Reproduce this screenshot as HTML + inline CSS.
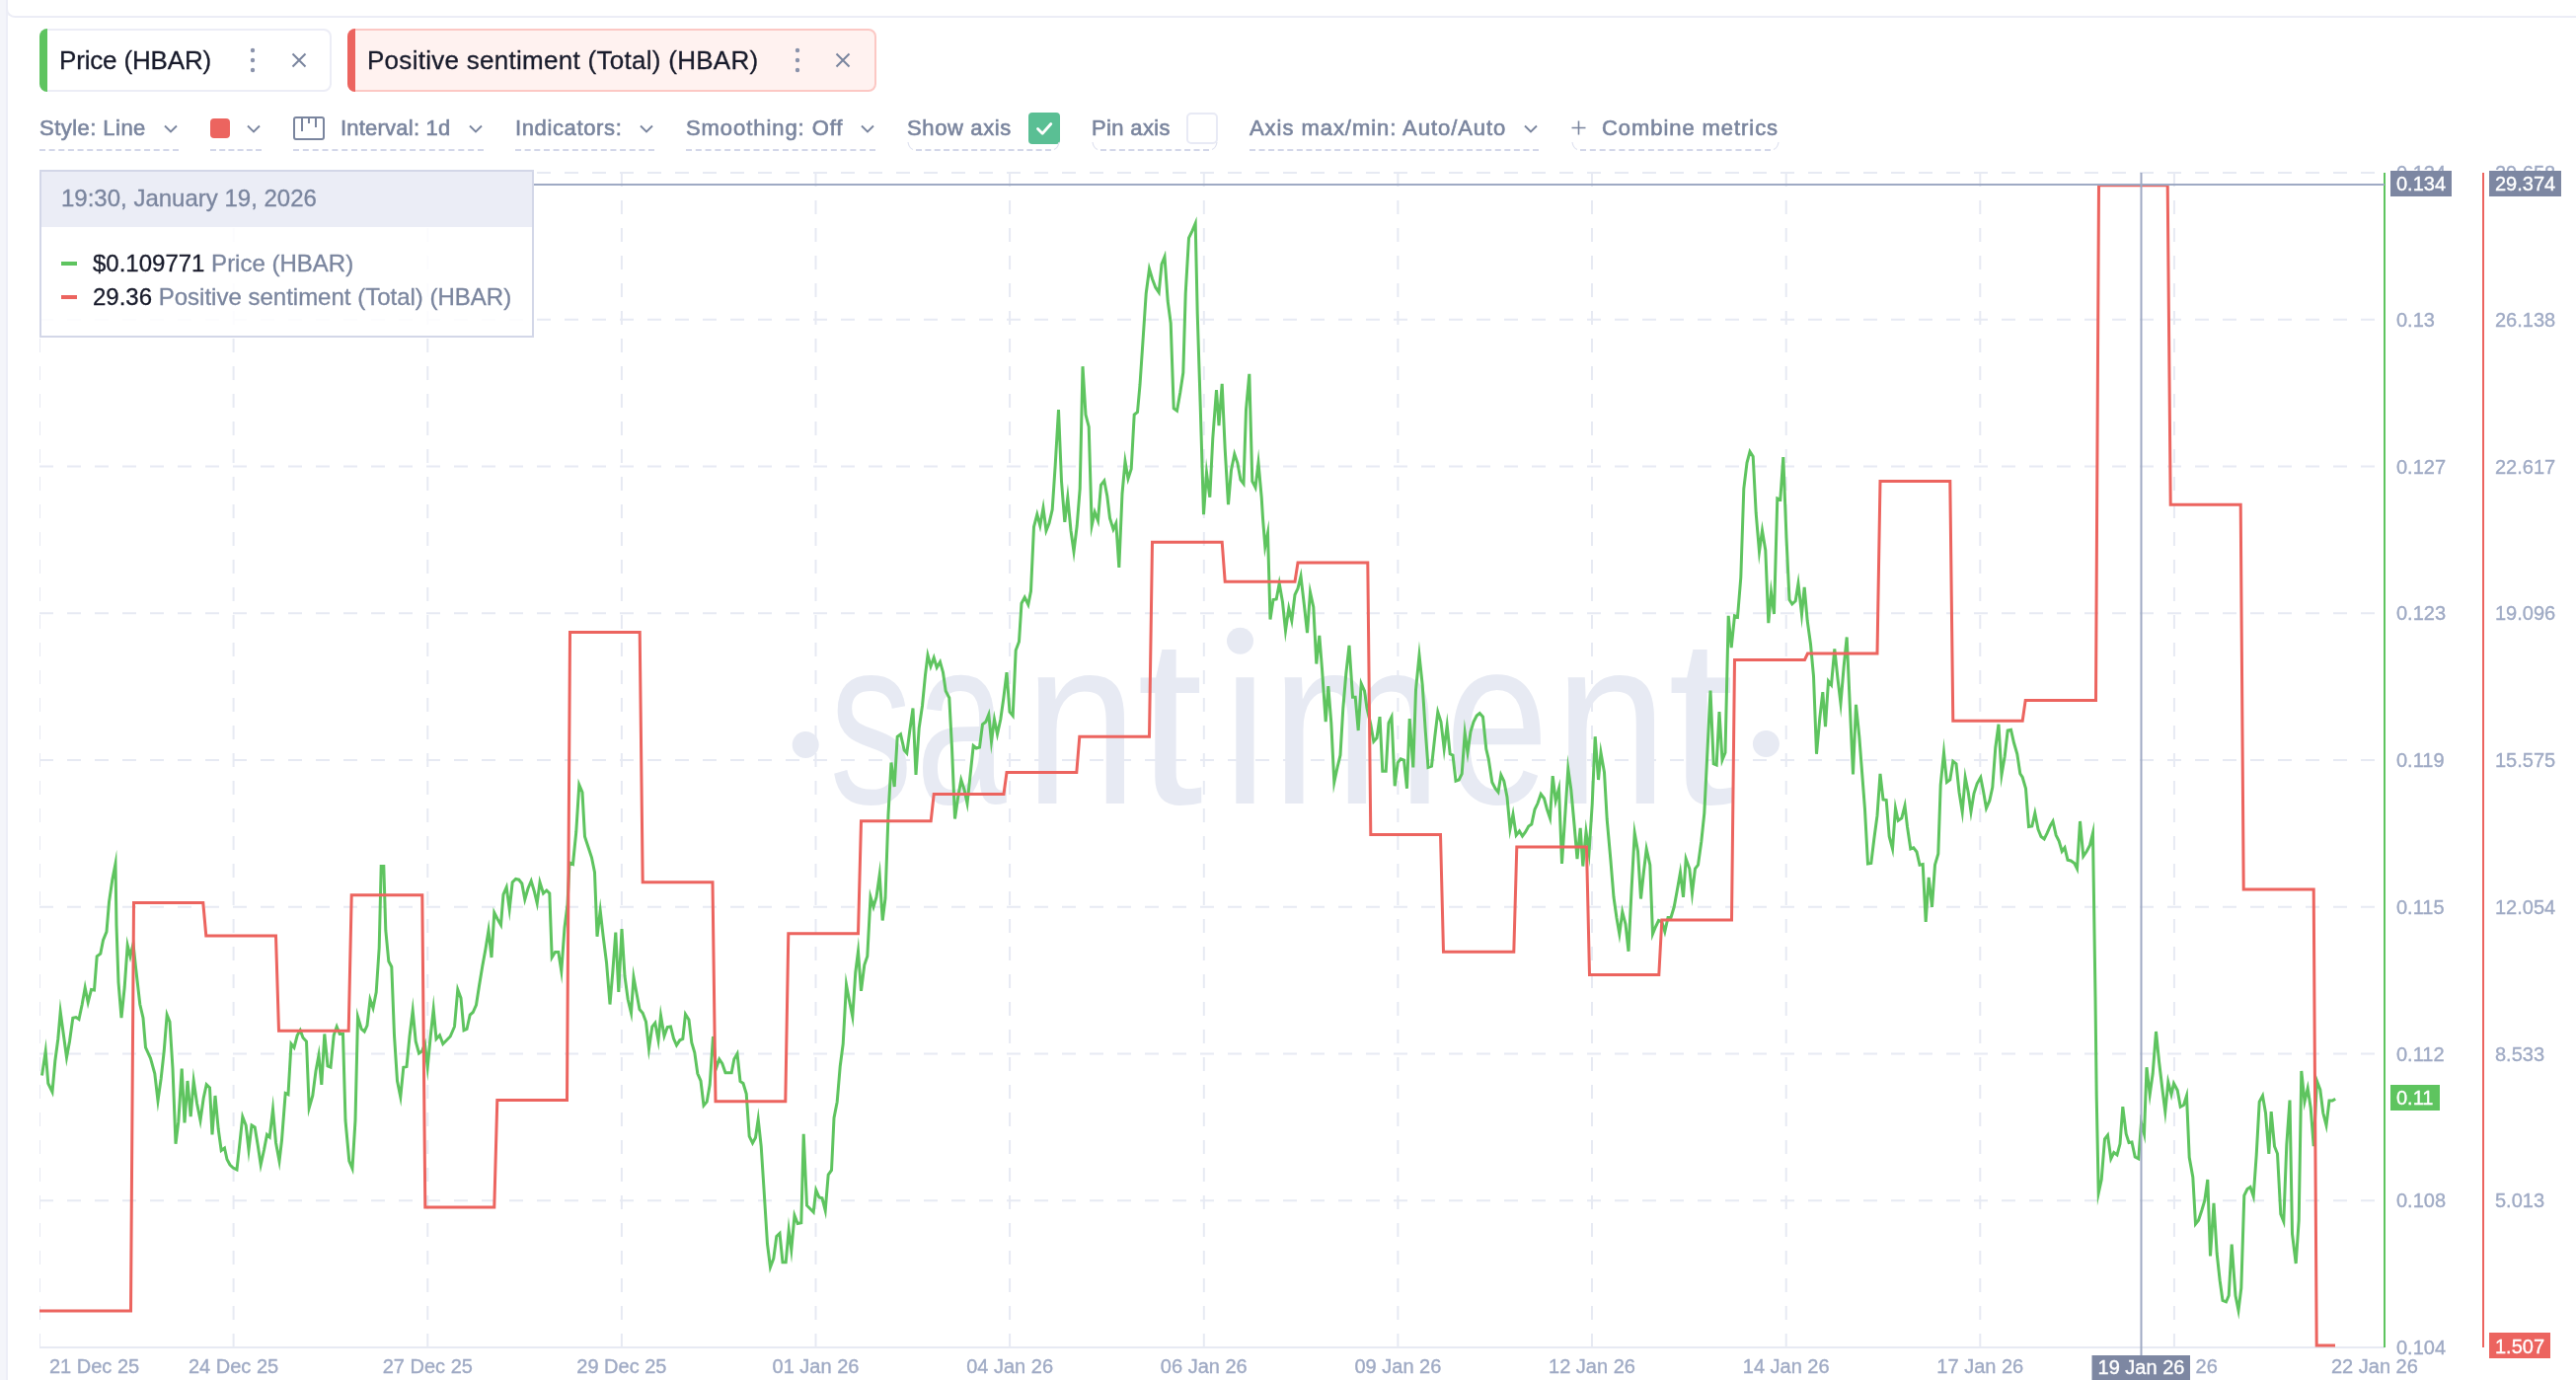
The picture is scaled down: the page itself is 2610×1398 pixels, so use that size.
<!DOCTYPE html><html><head><meta charset="utf-8"><title>Santiment chart</title><style>
*{box-sizing:border-box;margin:0;padding:0}
html,body{width:2610px;height:1398px;background:#fff}
body{position:relative;font-family:"Liberation Sans",sans-serif;color:#7a859e}
.abs{position:absolute}
#strip{left:0;top:0;width:8px;height:1398px;background:#f4f5fa;border-right:2px solid #edeef7}
#topcard{left:6px;top:-20px;width:2604px;height:38px;border:2px solid #ecedf6;border-right:none;border-radius:0 0 0 9px;background:#fff}
#chart{position:absolute;left:0;top:0;will-change:transform}
.chip,.tb,#tip{will-change:transform}
.chip{position:absolute;top:29px;height:64px;border:2px solid #ecedf6;border-radius:8px;background:#fff}
.chip .bar{position:absolute;left:-2px;top:-2px;width:8px;height:64px;border-radius:8px 0 0 8px}
.chip .t{position:absolute;top:14px;font-size:26px;line-height:32px;color:#181b2b;white-space:nowrap;-webkit-text-stroke:0.3px #181b2b}
.chip svg{position:absolute}
.tb{position:absolute;top:114px;height:32px;font-size:22px;line-height:32px;white-space:nowrap;color:#7a859e;-webkit-text-stroke:0.6px #7a859e}
.ul{position:absolute;top:151px;height:2px}
#tip{position:absolute;left:40px;top:172px;width:501px;height:170px;border:2px solid #d3d7e8;background:rgba(255,255,255,0.86)}
#tip .h{position:absolute;left:0;top:0;width:497px;height:56px;background:#ebedf6;font-size:24px;line-height:53px;padding-left:20px;color:#7a859e;-webkit-text-stroke:0.3px #7a859e}
#tip .r{position:absolute;left:52px;font-size:24px;line-height:30px;white-space:nowrap;color:#7a859e;-webkit-text-stroke:0.3px #7a859e}
#tip .r b{font-weight:normal;color:#181b2b;-webkit-text-stroke:0.3px #181b2b}
#tip .d{position:absolute;left:20px;width:16px;height:4px}
</style></head><body>
<div id="strip" class="abs"></div><div id="topcard" class="abs"></div>
<div class="chip" style="left:40px;width:296px"><div class="bar" style="background:#5ec45f"></div><span class="t" id="c1" style="left:18px;letter-spacing:-0.17px">Price (HBAR)</span><svg width="6" height="28" viewBox="0 0 6 28" style="left:211px;top:16px"><g fill="#8b93ab"><circle cx="3" cy="4" r="2.2"/><circle cx="3" cy="14" r="2.2"/><circle cx="3" cy="24" r="2.2"/></g></svg><svg width="16" height="16" viewBox="0 0 16 16" style="left:253px;top:22px"><path d="M1.5,1.5L14.5,14.5M14.5,1.5L1.5,14.5" stroke="#7a859e" stroke-width="2" fill="none"/></svg></div>
<div class="chip" style="left:352px;width:536px;background:#fff2f0;border-color:#fcc8c4"><div class="bar" style="background:#ec645f"></div><span class="t" id="c2" style="left:18px;letter-spacing:0.28px">Positive sentiment (Total) (HBAR)</span><svg width="6" height="28" viewBox="0 0 6 28" style="left:451px;top:16px"><g fill="#8b93ab"><circle cx="3" cy="4" r="2.2"/><circle cx="3" cy="14" r="2.2"/><circle cx="3" cy="24" r="2.2"/></g></svg><svg width="16" height="16" viewBox="0 0 16 16" style="left:492px;top:22px"><path d="M1.5,1.5L14.5,14.5M14.5,1.5L1.5,14.5" stroke="#7a859e" stroke-width="2" fill="none"/></svg></div>
<span class="tb" id="t1" style="left:40px;letter-spacing:0.46px">Style: Line</span><svg class="abs" style="left:165px;top:126px" width="16" height="10" viewBox="0 0 16 10"><path d="M2,1.5L8,7.5L14,1.5" fill="none" stroke="#7a859e" stroke-width="1.9" stroke-linecap="butt" stroke-linejoin="miter"/></svg><svg class="ul" style="left:40px" width="141" height="2"><path d="M0,1H141" stroke="#d3d7e9" stroke-width="2" stroke-dasharray="6 3.643"/></svg>
<div class="abs" style="left:213px;top:120px;width:20px;height:20px;border-radius:4px;background:#ec645f"></div><svg class="abs" style="left:249px;top:126px" width="16" height="10" viewBox="0 0 16 10"><path d="M2,1.5L8,7.5L14,1.5" fill="none" stroke="#7a859e" stroke-width="1.9" stroke-linecap="butt" stroke-linejoin="miter"/></svg><svg class="ul" style="left:213px" width="52" height="2"><path d="M0,1H52" stroke="#d3d7e9" stroke-width="2" stroke-dasharray="6 3.200"/></svg>
<svg class="abs" style="left:296px;top:117px" width="34" height="26" viewBox="0 0 34 26"><rect x="2" y="2" width="30" height="22" rx="2" fill="none" stroke="#7a859e" stroke-width="2"/><path d="M10,2V16M17,2V8M24,2V12" stroke="#7a859e" stroke-width="2" fill="none"/></svg>
<span class="tb" id="t2" style="left:345px;letter-spacing:0.22px">Interval: 1d</span><svg class="abs" style="left:474px;top:126px" width="16" height="10" viewBox="0 0 16 10"><path d="M2,1.5L8,7.5L14,1.5" fill="none" stroke="#7a859e" stroke-width="1.9" stroke-linecap="butt" stroke-linejoin="miter"/></svg><svg class="ul" style="left:297px" width="193" height="2"><path d="M0,1H193" stroke="#d3d7e9" stroke-width="2" stroke-dasharray="6 3.842"/></svg>
<span class="tb" id="t3" style="left:522px;letter-spacing:0.63px">Indicators:</span><svg class="abs" style="left:647px;top:126px" width="16" height="10" viewBox="0 0 16 10"><path d="M2,1.5L8,7.5L14,1.5" fill="none" stroke="#7a859e" stroke-width="1.9" stroke-linecap="butt" stroke-linejoin="miter"/></svg><svg class="ul" style="left:522px" width="141" height="2"><path d="M0,1H141" stroke="#d3d7e9" stroke-width="2" stroke-dasharray="6 3.643"/></svg>
<span class="tb" id="t4" style="left:695px;letter-spacing:0.93px">Smoothing: Off</span><svg class="abs" style="left:871px;top:126px" width="16" height="10" viewBox="0 0 16 10"><path d="M2,1.5L8,7.5L14,1.5" fill="none" stroke="#7a859e" stroke-width="1.9" stroke-linecap="butt" stroke-linejoin="miter"/></svg><svg class="ul" style="left:695px" width="192" height="2"><path d="M0,1H192" stroke="#d3d7e9" stroke-width="2" stroke-dasharray="6 3.789"/></svg>
<span class="tb" id="t5" style="left:919px;letter-spacing:0.63px">Show axis</span><div class="abs" style="left:1042px;top:114px;width:32px;height:32px;border-radius:4px;background:#5abf94"><svg width="32" height="32" viewBox="0 0 32 32"><path d="M9.5,16.5L14.2,21.2L22.8,11.5" fill="none" stroke="#fff" stroke-width="2.8" stroke-linecap="round" stroke-linejoin="round"/></svg></div><svg class="abs" style="left:919px;top:141px" width="155" height="12"><path d="M9,11H146" fill="none" stroke="#d3d7e9" stroke-width="2" stroke-dasharray="6 3.357"/><path d="M1,3Q2,9,6,10.5M154,3Q153,9,149,10.5" fill="none" stroke="#dfe2f0" stroke-width="1.2"/></svg>
<span class="tb" id="t6" style="left:1106px;letter-spacing:0.35px">Pin axis</span><div class="abs" style="left:1202px;top:114px;width:32px;height:32px;border-radius:5px;border:2px solid #e8eaf5;background:#fff"></div><svg class="abs" style="left:1106px;top:141px" width="128" height="12"><path d="M9,11H119" fill="none" stroke="#d3d7e9" stroke-width="2" stroke-dasharray="6 3.455"/><path d="M1,3Q2,9,6,10.5M127,3Q126,9,122,10.5" fill="none" stroke="#dfe2f0" stroke-width="1.2"/></svg>
<span class="tb" id="t7" style="left:1266px;letter-spacing:0.95px">Axis max/min: Auto/Auto</span><svg class="abs" style="left:1543px;top:126px" width="16" height="10" viewBox="0 0 16 10"><path d="M2,1.5L8,7.5L14,1.5" fill="none" stroke="#7a859e" stroke-width="1.9" stroke-linecap="butt" stroke-linejoin="miter"/></svg><svg class="ul" style="left:1266px" width="293" height="2"><path d="M0,1H293" stroke="#d3d7e9" stroke-width="2" stroke-dasharray="6 3.567"/></svg>
<svg class="abs" style="left:1592px;top:122px" width="15" height="15" viewBox="0 0 15 15"><path d="M7.5,0.5V14.5M0.5,7.5H14.5" stroke="#7a859e" stroke-width="1.6" fill="none"/></svg><span class="tb" id="t8" style="left:1623px;letter-spacing:0.93px">Combine metrics</span><svg class="abs" style="left:1592px;top:141px" width="211" height="12"><path d="M9,11H202" fill="none" stroke="#d3d7e9" stroke-width="2" stroke-dasharray="6 3.842"/><path d="M1,3Q2,9,6,10.5M210,3Q209,9,205,10.5" fill="none" stroke="#dfe2f0" stroke-width="1.2"/></svg>
<svg id="chart" width="2610" height="1398" viewBox="0 0 2610 1398"><g fill="#e7eaf3" font-family="Liberation Sans, sans-serif" font-size="241"><circle cx="816.2" cy="754.5" r="13.5"/><circle cx="1789.4" cy="753.5" r="13.5"/><circle cx="1256.5" cy="649.3" r="13.5"/><text transform="translate(840.4,814.4) scale(0.7,1)">s</text><text transform="translate(928.1,814.4) scale(0.685,1)">a</text><text transform="translate(1037.9,814.4) scale(0.853,1)">n</text><text transform="translate(1151.9,814.4) scale(1.0,1)">t</text><text transform="translate(1232.9,814.4) scale(0.85,1)">ı</text><text transform="translate(1287.7,814.4) scale(0.864,1)">m</text><text transform="translate(1464.3,814.4) scale(0.783,1)">e</text><text transform="translate(1575.1,814.4) scale(0.853,1)">n</text><text transform="translate(1690.1,814.4) scale(1.0,1)">t</text></g><g stroke="#e7eaf3" stroke-width="2" stroke-dasharray="14 14" fill="none"><path d="M40,175.0H2416"/><path d="M40,323.8H2416"/><path d="M40,472.5H2416"/><path d="M40,621.2H2416"/><path d="M40,770.0H2416"/><path d="M40,918.8H2416"/><path d="M40,1067.5H2416"/><path d="M40,1216.2H2416"/><path d="M236.6,175V1364"/><path d="M433.3,175V1364"/><path d="M629.9,175V1364"/><path d="M826.5,175V1364"/><path d="M1023.1,175V1364"/><path d="M1219.8,175V1364"/><path d="M1416.4,175V1364"/><path d="M1613.0,175V1364"/><path d="M1809.7,175V1364"/><path d="M2006.3,175V1364"/><path d="M2202.9,175V1364"/><path d="M40.5,175V1364" stroke-width="1"/></g><path d="M40,1365H2416" stroke="#e7eaf3" stroke-width="2"/><path d="M42.5,1089.5 L46.2,1065.0 L48.8,1097.5 L53.0,1106.2 L55.8,1075.0 L58.8,1052.5 L61.2,1025.0 L67.5,1071.2 L70.5,1055.0 L73.8,1031.2 L77.0,1030.5 L80.0,1032.5 L83.2,1017.5 L86.2,1000.5 L89.2,1015.5 L92.5,1002.5 L95.5,1003.0 L98.2,968.8 L101.8,966.2 L104.5,952.5 L108.0,943.8 L110.5,913.8 L113.8,891.2 L117.0,875.0 L118.0,937.5 L120.0,995.0 L123.0,1031.2 L126.2,1000.0 L129.2,957.5 L132.0,968.8 L135.0,956.2 L137.5,980.0 L141.8,1017.5 L145.0,1031.2 L147.5,1061.2 L152.5,1072.0 L156.8,1087.5 L160.0,1115.0 L163.2,1092.5 L166.2,1065.0 L169.2,1028.0 L172.0,1035.0 L175.0,1082.5 L178.0,1158.8 L180.8,1136.2 L184.2,1082.5 L187.0,1137.5 L190.0,1095.0 L193.2,1131.2 L196.2,1095.0 L199.5,1117.5 L203.0,1135.0 L206.2,1112.5 L209.2,1098.8 L212.5,1102.0 L215.0,1149.5 L218.0,1110.0 L221.2,1143.8 L224.2,1165.5 L227.5,1163.0 L230.0,1174.5 L233.0,1180.0 L236.2,1183.0 L240.0,1185.0 L243.0,1157.5 L245.8,1131.2 L249.2,1140.0 L252.0,1165.0 L255.0,1140.0 L258.2,1142.0 L261.2,1160.0 L264.2,1180.0 L267.5,1165.0 L270.5,1149.5 L273.2,1152.0 L276.5,1123.8 L279.5,1157.5 L283.0,1176.2 L285.5,1155.0 L289.2,1107.5 L292.0,1108.8 L295.0,1057.5 L298.0,1061.2 L301.2,1048.8 L304.2,1043.8 L307.0,1051.2 L310.5,1055.0 L313.2,1122.5 L316.8,1110.0 L320.0,1085.0 L323.0,1068.8 L325.8,1098.8 L328.8,1047.5 L332.0,1080.0 L335.0,1081.2 L338.2,1048.8 L341.2,1040.0 L344.2,1047.5 L347.5,1047.5 L350.0,1135.0 L353.8,1176.2 L357.0,1183.8 L360.0,1135.0 L362.5,1030.0 L366.2,1042.5 L369.2,1045.0 L372.0,1038.8 L375.0,1012.5 L378.0,1021.2 L381.2,1005.0 L384.2,960.0 L386.2,877.5 L388.8,877.5 L390.8,942.5 L393.8,973.8 L396.8,979.5 L399.5,1048.8 L402.5,1095.0 L405.8,1111.2 L408.8,1081.2 L412.0,1080.5 L415.0,1050.0 L418.2,1023.8 L421.2,1055.0 L424.5,1067.0 L427.5,1065.0 L430.5,1057.5 L433.2,1081.2 L436.2,1050.0 L439.2,1022.5 L442.0,1052.5 L445.5,1048.8 L448.8,1057.5 L452.5,1053.8 L456.2,1050.0 L460.5,1040.0 L463.8,1002.5 L467.0,1011.2 L470.0,1043.8 L473.0,1042.5 L476.2,1028.0 L479.2,1025.5 L482.5,1018.0 L485.5,998.8 L488.8,978.8 L492.0,961.2 L495.0,942.5 L498.0,970.0 L500.8,924.5 L504.2,931.2 L507.5,937.0 L510.0,906.2 L513.2,898.8 L516.2,921.2 L519.2,893.8 L522.5,890.5 L525.8,891.2 L528.8,895.0 L531.8,911.2 L535.0,900.0 L538.2,892.5 L541.2,902.5 L544.2,915.0 L547.0,893.8 L550.5,905.0 L553.8,902.0 L556.8,905.0 L559.2,970.0 L562.5,964.5 L565.8,964.5 L568.8,983.8 L572.0,940.0 L575.0,916.2 L577.0,873.8 L580.5,875.5 L583.8,842.5 L586.8,795.0 L590.0,802.5 L592.5,847.5 L596.2,858.8 L599.5,868.8 L602.5,883.8 L605.0,948.8 L608.2,922.5 L611.2,948.8 L614.5,975.0 L618.0,1017.5 L620.8,985.0 L623.8,944.5 L626.8,1005.0 L630.0,941.2 L633.0,988.8 L636.2,1012.5 L639.5,1026.2 L642.0,990.0 L645.0,1006.2 L648.0,1022.5 L651.2,1026.2 L654.5,1035.0 L657.5,1062.5 L660.8,1040.0 L663.8,1036.2 L667.0,1053.8 L669.5,1028.8 L673.0,1049.5 L676.2,1040.5 L679.5,1040.0 L682.5,1052.0 L685.5,1058.8 L688.8,1053.8 L691.8,1052.5 L694.5,1027.5 L698.0,1033.0 L700.8,1056.2 L703.8,1066.2 L706.8,1087.5 L710.0,1095.0 L713.0,1120.0 L716.2,1116.2 L719.2,1098.8 L722.5,1050.0 L725.5,1082.5 L728.8,1073.0 L731.8,1077.5 L735.0,1086.8 L741.2,1086.8 L743.8,1073.0 L747.0,1067.5 L750.0,1095.5 L753.0,1097.5 L756.2,1108.0 L759.2,1151.2 L762.5,1158.0 L765.5,1152.5 L768.2,1133.8 L771.2,1161.2 L774.2,1207.5 L777.5,1260.0 L780.5,1283.8 L783.8,1275.0 L786.8,1252.5 L790.0,1249.5 L793.0,1278.8 L796.2,1278.8 L799.2,1246.2 L801.8,1266.2 L805.0,1231.2 L808.2,1239.5 L811.8,1238.8 L814.2,1148.8 L817.5,1221.2 L820.8,1224.5 L824.2,1228.0 L826.8,1205.5 L830.0,1213.0 L833.0,1213.8 L836.2,1226.2 L839.2,1190.0 L842.5,1185.5 L845.0,1132.5 L848.2,1116.2 L851.2,1080.5 L854.2,1057.5 L857.5,997.5 L860.8,1015.0 L863.8,1030.0 L866.8,985.0 L869.5,963.8 L872.5,1003.8 L875.8,977.5 L878.8,968.8 L882.0,908.8 L885.0,918.8 L888.0,908.8 L891.2,886.2 L894.2,932.5 L897.0,910.0 L900.0,825.0 L903.0,772.5 L906.2,797.0 L909.2,746.2 L912.5,743.8 L916.2,760.0 L918.8,763.0 L921.8,740.0 L925.0,717.5 L928.0,785.0 L931.2,737.5 L934.5,715.0 L937.5,683.8 L940.0,663.8 L943.0,675.0 L946.2,666.2 L949.2,676.2 L952.5,670.5 L955.5,681.2 L958.2,700.0 L961.8,707.0 L964.5,757.5 L967.5,829.5 L970.5,808.8 L973.8,790.0 L977.0,800.0 L980.0,813.8 L983.2,783.8 L986.2,755.5 L989.2,758.0 L992.5,757.0 L995.5,733.8 L998.8,731.2 L1001.8,723.8 L1004.5,751.2 L1007.5,728.8 L1010.5,743.8 L1013.8,728.8 L1016.8,707.5 L1020.0,681.2 L1023.0,721.2 L1026.2,725.0 L1029.2,658.8 L1032.5,650.0 L1035.0,611.2 L1038.2,605.0 L1041.8,612.5 L1044.5,598.8 L1047.5,533.8 L1050.8,521.2 L1053.8,532.5 L1057.0,514.5 L1060.0,537.5 L1063.0,530.0 L1066.2,516.2 L1069.2,471.2 L1072.5,415.0 L1075.5,487.5 L1078.8,528.8 L1081.8,503.8 L1085.0,537.5 L1088.0,558.8 L1091.2,532.5 L1094.2,495.0 L1097.0,371.2 L1100.0,420.0 L1103.2,432.5 L1106.2,532.5 L1109.2,518.8 L1112.5,527.5 L1115.5,491.2 L1118.8,487.0 L1121.8,502.5 L1124.5,525.0 L1128.0,536.2 L1130.8,530.0 L1133.8,575.0 L1137.0,500.0 L1140.0,467.5 L1143.0,485.0 L1146.2,475.0 L1149.2,420.0 L1152.5,417.5 L1155.0,390.0 L1158.2,342.5 L1161.2,297.5 L1164.5,272.5 L1167.5,282.5 L1170.8,291.2 L1174.2,296.2 L1177.0,267.5 L1180.0,260.0 L1183.2,305.0 L1186.2,327.5 L1189.2,413.8 L1192.5,416.2 L1195.8,397.5 L1198.8,377.5 L1201.2,297.5 L1204.5,241.2 L1208.0,233.8 L1211.2,226.2 L1213.2,317.5 L1216.2,411.2 L1219.5,521.2 L1222.5,478.8 L1225.8,503.8 L1228.8,443.8 L1232.5,395.0 L1235.0,431.2 L1238.2,388.8 L1241.2,455.0 L1244.5,511.2 L1247.5,476.2 L1250.8,460.0 L1253.8,468.8 L1257.0,486.2 L1260.0,490.0 L1262.5,415.0 L1265.8,378.8 L1268.8,487.5 L1272.0,493.8 L1275.0,468.8 L1278.2,503.8 L1279.5,525.0 L1281.8,553.8 L1284.5,540.0 L1287.0,627.5 L1290.0,607.5 L1293.2,607.0 L1296.2,591.2 L1299.5,610.0 L1302.5,638.8 L1305.8,616.2 L1308.8,628.8 L1312.0,602.5 L1315.0,596.2 L1318.0,583.8 L1321.2,611.2 L1324.5,641.2 L1327.5,600.0 L1330.8,615.0 L1333.8,672.5 L1336.8,643.8 L1339.5,677.5 L1343.2,731.2 L1345.8,695.0 L1348.8,732.5 L1351.8,792.5 L1355.0,777.5 L1358.0,765.0 L1360.8,717.5 L1363.8,682.5 L1367.0,653.8 L1370.5,706.2 L1373.2,706.2 L1376.2,740.0 L1379.2,692.5 L1382.5,700.0 L1385.0,717.5 L1388.8,733.8 L1391.8,751.2 L1395.0,747.5 L1398.0,726.2 L1400.8,781.2 L1404.2,781.2 L1407.0,732.5 L1410.0,726.2 L1413.2,796.2 L1416.2,772.5 L1419.2,768.8 L1422.5,770.0 L1425.5,798.8 L1428.2,728.0 L1431.8,777.5 L1434.5,698.8 L1438.0,663.8 L1441.2,693.8 L1444.2,740.0 L1447.0,777.5 L1450.5,776.2 L1453.8,746.2 L1456.8,721.2 L1460.0,731.2 L1463.2,758.8 L1466.2,735.0 L1469.2,763.8 L1472.0,765.0 L1475.0,791.2 L1478.2,790.0 L1481.2,783.8 L1484.2,742.5 L1487.0,762.5 L1490.0,741.2 L1493.0,731.2 L1496.2,725.0 L1499.2,722.5 L1502.5,726.2 L1505.8,758.8 L1508.2,768.8 L1511.8,792.5 L1515.0,798.8 L1518.0,802.5 L1520.8,785.0 L1523.8,791.2 L1527.0,807.5 L1530.0,840.0 L1533.0,825.0 L1536.2,846.2 L1539.5,842.0 L1542.5,847.0 L1545.5,843.0 L1548.8,837.0 L1551.8,835.0 L1555.0,820.0 L1558.0,813.8 L1561.2,804.5 L1564.5,808.8 L1567.5,820.0 L1570.5,828.8 L1573.2,786.2 L1576.2,811.2 L1579.5,798.8 L1582.5,875.0 L1585.5,830.0 L1588.8,778.8 L1591.8,800.0 L1595.0,835.0 L1598.0,870.0 L1601.2,838.8 L1603.8,877.5 L1607.0,842.5 L1610.0,863.8 L1613.2,815.0 L1616.2,746.2 L1619.5,790.0 L1622.0,762.5 L1625.5,782.5 L1628.2,830.0 L1631.8,870.0 L1635.0,908.8 L1638.0,930.0 L1640.8,946.2 L1643.8,923.8 L1647.0,936.2 L1650.0,963.8 L1653.0,902.5 L1656.2,843.8 L1659.5,862.5 L1662.5,910.5 L1665.5,882.5 L1668.2,860.0 L1671.8,876.2 L1674.5,946.2 L1677.5,938.8 L1680.5,932.5 L1683.8,933.8 L1686.8,943.8 L1690.0,929.5 L1693.0,929.5 L1696.2,918.8 L1699.2,902.5 L1702.5,883.8 L1705.5,908.8 L1708.2,870.0 L1711.8,880.0 L1714.5,905.0 L1717.5,880.0 L1720.5,876.2 L1723.8,852.5 L1726.8,823.8 L1729.5,770.0 L1733.0,699.5 L1736.2,773.8 L1739.2,775.0 L1742.0,721.2 L1745.0,770.0 L1748.0,762.5 L1751.2,623.8 L1754.2,656.2 L1757.5,623.8 L1760.5,625.0 L1763.8,585.0 L1766.8,495.0 L1770.0,468.8 L1773.0,457.5 L1776.2,462.5 L1779.2,520.0 L1782.5,558.8 L1785.5,537.5 L1788.8,557.5 L1791.8,631.2 L1794.5,600.0 L1797.5,622.0 L1800.8,505.0 L1803.8,506.2 L1806.8,463.0 L1810.0,545.0 L1813.0,607.5 L1815.8,612.0 L1819.2,608.8 L1822.0,591.2 L1825.5,622.5 L1828.2,595.0 L1831.2,628.8 L1834.5,652.5 L1837.5,685.0 L1840.5,763.8 L1843.8,727.5 L1846.8,701.2 L1849.5,736.2 L1852.5,690.0 L1855.5,693.8 L1858.8,657.5 L1862.0,687.5 L1865.0,712.5 L1868.2,675.0 L1871.2,645.5 L1874.2,712.5 L1877.5,784.5 L1880.5,713.8 L1883.8,746.2 L1886.8,785.0 L1889.5,820.0 L1892.5,875.0 L1895.8,874.5 L1898.8,850.0 L1902.0,826.2 L1905.0,783.8 L1908.0,810.0 L1911.2,810.5 L1914.2,847.5 L1917.5,860.0 L1920.5,818.8 L1923.2,831.2 L1926.8,828.8 L1930.0,816.2 L1932.5,837.5 L1935.8,860.0 L1938.8,858.8 L1942.0,863.0 L1945.0,876.2 L1948.2,875.5 L1951.2,933.8 L1954.2,888.8 L1957.5,918.8 L1960.5,876.2 L1963.8,865.0 L1966.2,795.0 L1969.5,762.5 L1972.5,792.5 L1975.8,790.0 L1978.8,771.2 L1982.0,773.8 L1985.0,802.5 L1988.2,822.5 L1991.2,787.5 L1994.2,802.5 L1997.0,822.5 L2000.0,803.8 L2003.2,793.8 L2006.8,787.5 L2009.5,801.2 L2012.5,818.8 L2015.8,811.2 L2018.8,797.5 L2021.8,757.5 L2025.0,733.8 L2028.0,785.0 L2031.2,766.2 L2034.2,740.0 L2037.5,739.2 L2040.5,752.5 L2043.8,763.8 L2046.8,783.8 L2049.2,787.5 L2052.5,798.8 L2055.5,837.5 L2058.8,837.0 L2061.8,823.8 L2065.0,840.0 L2068.0,847.5 L2071.2,850.0 L2074.2,843.8 L2077.5,836.2 L2080.0,832.0 L2083.2,846.2 L2086.2,852.0 L2089.2,862.5 L2092.0,858.8 L2095.0,871.2 L2098.2,872.0 L2101.8,874.5 L2104.5,880.0 L2107.5,832.0 L2110.8,867.5 L2114.2,862.5 L2117.5,856.2 L2120.5,843.8 L2123.0,1010.0 L2124.2,1110.0 L2126.2,1208.8 L2129.2,1195.0 L2132.5,1153.8 L2135.5,1150.0 L2138.8,1173.8 L2141.8,1167.5 L2145.0,1170.0 L2148.0,1158.8 L2150.8,1121.2 L2154.2,1148.8 L2157.0,1157.5 L2160.0,1157.0 L2163.2,1172.0 L2166.8,1173.8 L2169.5,1137.5 L2172.5,1148.8 L2175.0,1081.2 L2178.2,1108.8 L2181.2,1087.5 L2184.5,1045.0 L2187.5,1075.0 L2190.8,1102.5 L2193.8,1126.2 L2196.8,1096.2 L2200.0,1108.8 L2202.5,1097.5 L2206.2,1104.5 L2209.2,1121.2 L2212.5,1119.5 L2215.5,1110.0 L2218.2,1172.5 L2221.8,1192.5 L2224.5,1240.0 L2227.5,1236.2 L2230.8,1226.2 L2233.8,1216.2 L2236.8,1195.0 L2239.5,1272.5 L2243.0,1218.8 L2246.2,1270.0 L2249.2,1297.5 L2252.0,1317.5 L2255.5,1318.8 L2258.2,1312.5 L2261.2,1260.5 L2265.0,1312.5 L2268.0,1327.5 L2270.8,1305.0 L2273.8,1211.2 L2277.0,1204.5 L2280.0,1202.5 L2283.2,1212.0 L2286.2,1170.0 L2289.2,1116.2 L2292.5,1110.0 L2295.5,1127.5 L2298.8,1168.8 L2301.2,1126.2 L2304.5,1161.2 L2307.5,1168.8 L2310.8,1230.0 L2313.8,1237.5 L2316.8,1160.0 L2320.0,1114.5 L2322.5,1250.0 L2326.2,1280.0 L2329.2,1236.2 L2331.8,1085.0 L2335.0,1116.2 L2338.2,1102.5 L2341.2,1122.5 L2344.2,1161.2 L2347.5,1095.0 L2350.8,1103.8 L2353.8,1127.5 L2357.0,1140.0 L2360.0,1115.0 L2363.2,1115.0 L2366.2,1113.2" fill="none" stroke="#5ec45f" stroke-width="3" stroke-linejoin="miter" stroke-miterlimit="10"/><path d="M40.0,1328.0 L132.5,1328.0 L135.5,914.5 L205.8,914.5 L208.8,948.0 L279.5,948.0 L282.5,1044.2 L353.2,1044.2 L356.2,906.8 L427.8,906.8 L430.8,1223.0 L500.8,1223.0 L503.8,1114.5 L574.5,1114.5 L577.5,640.5 L648.2,640.5 L651.2,893.8 L722.0,893.8 L725.0,1115.8 L795.8,1115.8 L798.8,945.8 L869.5,945.8 L872.5,831.8 L943.2,831.8 L946.2,804.5 L1017.0,804.5 L1020.0,782.5 L1090.8,782.5 L1093.8,746.2 L1164.5,746.2 L1167.5,549.2 L1238.2,549.2 L1241.2,589.2 L1312.0,589.2 L1315.0,570.0 L1385.8,570.0 L1388.8,845.5 L1459.5,845.5 L1462.5,964.3 L1533.8,964.3 L1536.8,858.0 L1607.5,858.0 L1610.5,987.5 L1680.8,987.5 L1683.8,932.0 L1754.5,932.0 L1757.5,668.5 L1828.5,668.5 L1831.5,662.0 L1902.0,662.0 L1905.0,487.5 L1975.8,487.5 L1978.8,730.2 L2049.2,730.2 L2052.2,709.4 L2123.5,709.4 L2126.5,187.7 L2196.2,187.7 L2199.2,511.2 L2270.2,511.2 L2273.2,901.0 L2344.2,901.0 L2347.2,1363.0 L2366.0,1363.0" fill="none" stroke="#ec645f" stroke-width="3" stroke-linejoin="miter" stroke-miterlimit="10"/><path d="M2416,175V1365" stroke="#5ec45f" stroke-width="2"/><path d="M2516,175V1365" stroke="#ec645f" stroke-width="2"/><path d="M40,187H2416" stroke="#9faac4" stroke-width="2"/><path d="M2169.5,175V1373" stroke="#9faac4" stroke-width="2"/><g font-family="Liberation Sans, sans-serif" font-size="20" fill="#9faac4" stroke="#9faac4" stroke-width="0.35"><text x="2428" y="182.0">0.134</text><text x="2528" y="182.0">29.658</text><text x="2428" y="330.8">0.13</text><text x="2528" y="330.8">26.138</text><text x="2428" y="479.5">0.127</text><text x="2528" y="479.5">22.617</text><text x="2428" y="628.2">0.123</text><text x="2528" y="628.2">19.096</text><text x="2428" y="777.0">0.119</text><text x="2528" y="777.0">15.575</text><text x="2428" y="925.8">0.115</text><text x="2528" y="925.8">12.054</text><text x="2428" y="1074.5">0.112</text><text x="2528" y="1074.5">8.533</text><text x="2428" y="1223.2">0.108</text><text x="2528" y="1223.2">5.013</text><text x="2428" y="1371.5">0.104</text><text x="50" y="1390.7">21 Dec 25</text><text x="236.6" y="1390.7" text-anchor="middle">24 Dec 25</text><text x="433.3" y="1390.7" text-anchor="middle">27 Dec 25</text><text x="629.9" y="1390.7" text-anchor="middle">29 Dec 25</text><text x="826.5" y="1390.7" text-anchor="middle">01 Jan 26</text><text x="1023.1" y="1390.7" text-anchor="middle">04 Jan 26</text><text x="1219.8" y="1390.7" text-anchor="middle">06 Jan 26</text><text x="1416.4" y="1390.7" text-anchor="middle">09 Jan 26</text><text x="1613.0" y="1390.7" text-anchor="middle">12 Jan 26</text><text x="1809.7" y="1390.7" text-anchor="middle">14 Jan 26</text><text x="2006.3" y="1390.7" text-anchor="middle">17 Jan 26</text><text x="2202.9" y="1390.7" text-anchor="middle">19 Jan 26</text><text x="2362" y="1390.7">22 Jan 26</text></g><rect x="2422" y="173" width="62" height="26" fill="#7d87a2"/><text x="2428" y="193.0" font-family="Liberation Sans, sans-serif" font-size="20" fill="#fff" stroke="#fff" stroke-width="0.35">0.134</text><rect x="2522" y="173" width="73" height="26" fill="#7d87a2"/><text x="2528" y="193.0" font-family="Liberation Sans, sans-serif" font-size="20" fill="#fff" stroke="#fff" stroke-width="0.35">29.374</text><rect x="2422" y="1099" width="50" height="26" fill="#5ec45f"/><text x="2428" y="1119.2" font-family="Liberation Sans, sans-serif" font-size="20" fill="#fff" stroke="#fff" stroke-width="0.35">0.11</text><rect x="2522" y="1350" width="62" height="26" fill="#ec645f"/><text x="2528" y="1371.2" font-family="Liberation Sans, sans-serif" font-size="20" fill="#fff" stroke="#fff" stroke-width="0.35">1.507</text><rect x="2119.5" y="1373" width="99.5" height="25" fill="#7d87a2"/><text x="2169.5" y="1392.2" text-anchor="middle" font-family="Liberation Sans, sans-serif" font-size="20" fill="#fff" stroke="#fff" stroke-width="0.35">19 Jan 26</text></svg>
<div id="tip"><div class="h">19:30, January 19, 2026</div><div class="d" style="top:91px;background:#5ec45f"></div><div class="r" style="top:78px"><b>$0.109771</b> Price (HBAR)</div><div class="d" style="top:125px;background:#ec645f"></div><div class="r" style="top:112px"><b>29.36</b> Positive sentiment (Total) (HBAR)</div></div>
</body></html>
